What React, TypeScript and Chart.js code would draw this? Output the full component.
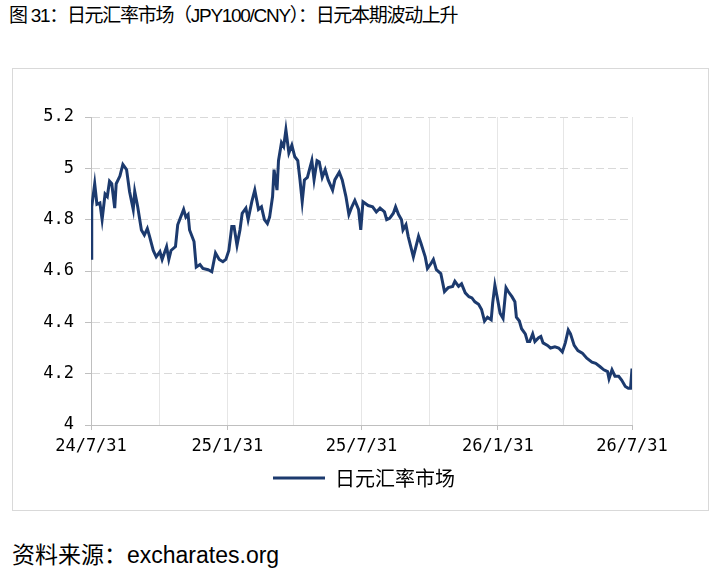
import React, { useEffect, useRef } from "react";
import { Chart, registerables } from "chart.js";

Chart.register(...registerables);

// Days since 2024-07-31
const days: number[] = [
  0, 1, 5, 8, 12, 15, 19, 22, 25, 28, 32, 34, 39, 43, 48, 52, 57, 59, 63, 68,
  72, 76, 79, 84, 88, 93, 96, 102, 105, 108, 114, 117, 125, 128, 131, 133, 139, 142, 147, 151,
  158, 163, 168, 173, 178, 182, 186, 190, 193, 197, 201, 204, 209, 212, 217, 221, 226, 230, 234, 238,
  241, 245, 247, 251, 253, 257, 260, 263, 267, 271, 275, 279, 282, 285, 288, 292, 298, 301, 305, 308,
  312, 316, 320, 326, 329, 335, 339, 344, 348, 352, 356, 361, 364, 367, 374, 380, 385, 390, 396, 399,
  403, 408, 411, 415, 419, 421, 425, 428, 435, 442, 445, 451, 454, 459, 462, 466, 472, 477, 482, 488,
  491, 496, 500, 505, 510, 514, 518, 523, 527, 531, 535, 540, 542, 545, 548, 552, 556, 560, 563, 568,
  572, 574, 578, 581, 586, 589, 592, 596, 599, 604, 607, 610, 616, 620, 626, 631, 636, 640, 644, 647,
  652, 657, 663, 669, 676, 681, 687, 692, 697, 699, 703, 707, 712, 716, 721, 725, 728, 730,
];

const values: number[] = [
  4.65, 4.85, 4.94, 4.86, 4.865, 4.8, 4.9, 4.89, 4.95, 4.94, 4.845, 4.94, 4.97, 5.015, 4.995, 4.91, 4.84, 4.91, 4.85, 4.76,
  4.74, 4.765, 4.735, 4.68, 4.655, 4.675, 4.645, 4.695, 4.645, 4.68, 4.695, 4.78, 4.84, 4.81, 4.82, 4.76, 4.715, 4.615, 4.625, 4.61,
  4.605, 4.597, 4.67, 4.645, 4.636, 4.645, 4.68, 4.773, 4.773, 4.7, 4.76, 4.825, 4.845, 4.8, 4.87, 4.915, 4.84, 4.85, 4.8, 4.785,
  4.81, 4.89, 4.995, 4.915, 5.03, 5.1, 5.085, 5.15, 5.06, 5.09, 5.045, 5.03, 4.955, 4.87, 4.955, 4.965, 5.03, 4.955, 5.03, 5.025,
  4.965, 4.995, 4.955, 4.915, 4.955, 4.985, 4.955, 4.89, 4.82, 4.85, 4.875, 4.84, 4.76, 4.87, 4.855, 4.85, 4.83, 4.845, 4.83, 4.8,
  4.805, 4.825, 4.85, 4.82, 4.8, 4.76, 4.78, 4.735, 4.655, 4.735, 4.71, 4.655, 4.61, 4.63, 4.645, 4.605, 4.59, 4.52, 4.535, 4.54,
  4.56, 4.54, 4.55, 4.515, 4.5, 4.495, 4.48, 4.47, 4.45, 4.405, 4.42, 4.41, 4.475, 4.545, 4.5, 4.435, 4.415, 4.535, 4.52, 4.5,
  4.48, 4.42, 4.405, 4.375, 4.355, 4.325, 4.325, 4.355, 4.325, 4.34, 4.345, 4.32, 4.31, 4.3, 4.305, 4.3, 4.285, 4.32, 4.37, 4.355,
  4.31, 4.29, 4.28, 4.26, 4.245, 4.24, 4.227, 4.215, 4.208, 4.18, 4.215, 4.19, 4.19, 4.175, 4.15, 4.143, 4.143, 4.22,
];

// Quarterly grid positions (days since 24/7/31) and their labels
const gridDays: number[] = [0, 92, 184, 273, 365, 457, 549, 638, 730];
const gridLabels: string[] = ["24/7/31", "", "25/1/31", "", "25/7/31", "", "26/1/31", "", "26/7/31"];

const yTicks: number[] = [4, 4.2, 4.4, 4.6, 4.8, 5, 5.2];
const yLabels: string[] = ["4", "4.2", "4.4", "4.6", "4.8", "5", "5.2"];

const seriesName = "日元汇率市场";
const NAVY = "#1c3a6e";

function ChartBox() {
  const ref = useRef<HTMLCanvasElement | null>(null);
  useEffect(() => {
    if (!ref.current) return;
    const tickFont = { family: "DejaVu Sans Mono", size: 17 };
    const chart = new Chart(ref.current, {
      type: "line",
      data: {
        datasets: [
          {
            label: seriesName,
            data: days.map((d, i) => ({ x: d, y: values[i] })),
            borderColor: NAVY,
            backgroundColor: NAVY,
            borderWidth: 3,
            pointRadius: 0,
            tension: 0,
            yAxisID: "y",
          },
        ],
      },
      options: {
        animation: false,
        responsive: false,
        events: [],
        layout: { padding: { left: 7, right: 0, top: 48, bottom: 12 } },
        plugins: {
          tooltip: { enabled: false },
          legend: {
            position: "bottom",
            labels: {
              boxWidth: 52,
              boxHeight: 3,
              padding: 10,
              color: "#000",
              font: { family: "Noto Sans CJK SC", size: 20 },
              generateLabels: () => [
                {
                  text: seriesName,
                  fillStyle: NAVY,
                  strokeStyle: NAVY,
                  lineWidth: 0,
                  hidden: false,
                  datasetIndex: 0,
                  fontColor: "#000",
                } as any,
              ],
            },
          },
        },
        scales: {
          x: {
            type: "linear",
            min: 0,
            max: 730,
            afterBuildTicks: (scale: any) => {
              scale.ticks = gridDays.map((v) => ({ value: v }));
            },
            afterFit: (scale: any) => {
              scale.height = 33;
            },
            ticks: {
              autoSkip: false,
              maxRotation: 0,
              minRotation: 0,
              padding: 6,
              color: "#000",
              font: tickFont,
              callback: (_v: any, index: number) => gridLabels[index],
            },
            grid: {
              color: "#e6e6e6",
              lineWidth: 1,
              tickLength: 5,
              tickColor: (ctx: any) => (gridLabels[ctx.index] ? "#bfbfbf" : "rgba(0,0,0,0)"),
            },
            border: { color: "#bfbfbf", width: 1 },
          },
          y: {
            type: "linear",
            position: "left",
            min: 4,
            max: 5.2,
            afterBuildTicks: (scale: any) => {
              scale.ticks = yTicks.map((v) => ({ value: v }));
            },
            afterFit: (scale: any) => {
              scale.width = 71;
            },
            ticks: {
              padding: 11,
              color: "#000",
              font: tickFont,
              callback: (_v: any, index: number) => yLabels[index],
            },
            grid: {
              color: "#d9d9d9",
              lineWidth: 1,
              tickLength: 6,
              tickColor: "#bfbfbf",
            },
            border: { color: "#bfbfbf", width: 1, dash: [8, 4] },
          },
          y2: {
            type: "linear",
            position: "right",
            display: true,
            grid: { display: false, drawTicks: false },
            ticks: { display: false },
            border: { display: false },
            afterFit: (scale: any) => {
              scale.width = 76;
            },
          },
        },
      } as any,
    });
    return () => chart.destroy();
  }, []);
  return <canvas ref={ref} width={695} height={441} style={{ width: 695, height: 441, display: "block" }} />;
}

export default function App() {
  return (
    <div
      style={{
        position: "absolute",
        left: 0,
        top: 0,
        width: 719,
        height: 572,
        background: "#fff",
        overflow: "hidden",
        fontFamily: '"Liberation Sans", "Noto Sans CJK SC", sans-serif',
        color: "#000",
      }}
    >
      <div
        style={{
          position: "absolute",
          left: 9,
          top: 4,
          fontSize: 19,
          lineHeight: "24px",
          letterSpacing: -1.3,
          whiteSpace: "nowrap",
        }}
      >
        图 31：日元汇率市场（JPY100/CNY）：日元本期波动上升
      </div>
      <div
        style={{
          position: "absolute",
          left: 12,
          top: 68,
          width: 697,
          height: 443,
          boxSizing: "border-box",
          border: "1px solid #d9d9d9",
        }}
      >
        <ChartBox />
      </div>
      <div
        style={{
          position: "absolute",
          left: 12,
          top: 541,
          fontSize: 23,
          lineHeight: "28px",
          whiteSpace: "nowrap",
        }}
      >
        资料来源：excharates.org
      </div>
    </div>
  );
}
